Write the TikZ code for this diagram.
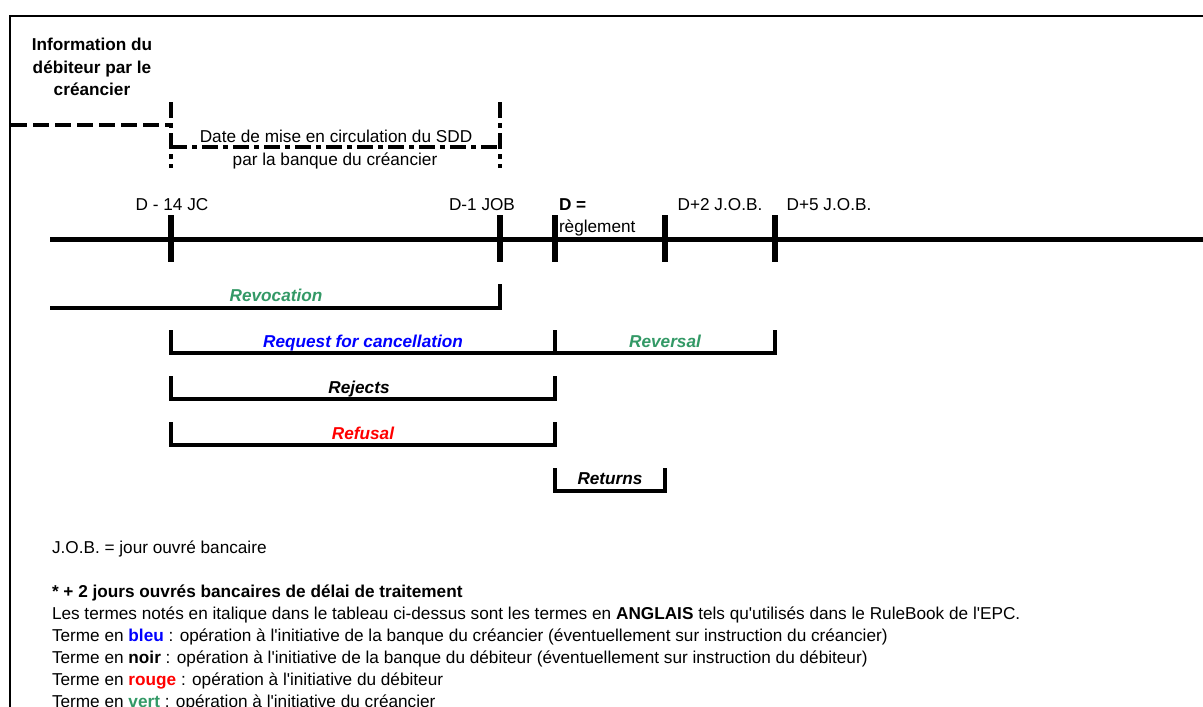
\documentclass[tikz,border=0pt]{standalone}
\usepackage{fontspec}
\newfontfamily\arial{Liberation Sans}
\definecolor{xgreen}{RGB}{51,153,102}
\definecolor{xblue}{RGB}{0,0,255}
\definecolor{xred}{RGB}{255,0,0}
\begin{document}
\begin{tikzpicture}[x=1pt,y=-1pt,
  txt/.style={inner sep=0pt,outer sep=0pt,font=\arial\fontsize{17.2}{20}\selectfont},
  btxt/.style={txt,font=\arial\fontsize{17.2}{20}\selectfont\bfseries},
  term/.style={txt,font=\arial\fontsize{17.2}{20}\selectfont\bfseries\itshape,anchor=base},
  frameline/.style={line width=2.2pt},
  axisline/.style={line width=5pt},
  tickmark/.style={line width=5.5pt},
  brk/.style={line width=4.2pt,line join=miter},
  longdash/.style={line width=4pt,dash pattern=on 16pt off 6pt},
  dashdot/.style={line width=4pt,dash pattern=on 16pt off 5pt on 5pt off 5pt}]
\useasboundingbox (0,0) rectangle (1203,707);
\fill[white] (0,0) rectangle (1203,707);
% frame
\draw[frameline] (10,707) -- (10,16) -- (1203,16);
% title
\node[btxt,anchor=base] (t1) at (92,50) {Information du};
\node[btxt,anchor=base] (t2) at (92,73) {débiteur par le};
\node[btxt,anchor=base] (t3) at (92,95) {créancier};
% dashed information line
\coordinate (infoL) at (11,125);
\coordinate (infoR) at (171,125);
\draw[longdash] (infoL) -- (infoR);
% date de mise en circulation
\coordinate (v1t) at (171,102); \coordinate (v1b) at (171,168);
\coordinate (v2t) at (500,102); \coordinate (v2b) at (500,168);
\coordinate (h1) at (171,147); \coordinate (h2) at (500,147);
\draw[dashdot] (v1t) -- (v1b);
\draw[dashdot] (v2t) -- (v2b);
\draw[dashdot] (h1) -- (h2);
\node[txt,anchor=base] (date1) at (336,142) {Date de mise en circulation du SDD};
\node[txt,anchor=base] (date2) at (335,165) {par la banque du créancier};
% timeline
\coordinate (axL) at (50,239);
\coordinate (axR) at (1203,239);
\draw[axisline] (axL) -- (axR);
\foreach \x/\n in {171/A,500/B,555/C,665/D,775/E}{
  \coordinate (t\n top) at (\x,215);
  \coordinate (t\n bot) at (\x,262);
  \draw[tickmark] (t\n top) -- (t\n bot);
}
\node[txt,anchor=base] (lA) at (172,210) {D - 14 JC};
\node[txt,anchor=base] (lB) at (482,210) {D-1 JOB};
\node[btxt,anchor=base west] (lC) at (559,210) {D =};
\node[txt,anchor=base west] (lC2) at (559,232) {règlement};
\node[txt,anchor=base] (lD) at (720,210) {D+2 J.O.B.};
\node[txt,anchor=base] (lE) at (829,210) {D+5 J.O.B.};
% brackets
\draw[brk] (50,308) -- (500,308) -- (500,284);
\node[term,text=xgreen] (revoc) at (276,301) {Revocation};
\draw[brk] (171,330) -- (171,353) -- (775,353) -- (775,330);
\draw[brk] (555,330) -- (555,353);
\node[term,text=xblue] (req) at (363,347) {Request for cancellation};
\node[term,text=xgreen] (rev) at (665,347) {Reversal};
\draw[brk] (171,376) -- (171,399) -- (555,399) -- (555,376);
\node[term,text=black] (rej) at (359,393) {Rejects};
\draw[brk] (171,422) -- (171,445) -- (555,445) -- (555,422);
\node[term,text=xred] (ref) at (363,439) {Refusal};
\draw[brk] (555,468) -- (555,491) -- (665,491) -- (665,468);
\node[term,text=black] (ret) at (610,484) {Returns};
% footer
\node[txt,anchor=base west] (f1) at (52,553) {J.O.B. = jour ouvré bancaire};
\node[btxt,anchor=base west] (f2) at (52,597) {* + 2 jours ouvrés bancaires de délai de traitement};
\node[txt,anchor=base west] (f3) at (52,619) {Les termes notés en italique dans le tableau ci-dessus sont les termes en \textbf{ANGLAIS} tels qu'utilisés dans le RuleBook de l'EPC.};
\node[txt,anchor=base west] (f4) at (52,641.5) {Terme en \textcolor{xblue}{\textbf{bleu}} : opération à l'initiative de la banque du créancier (éventuellement sur instruction du créancier)};
\node[txt,anchor=base west] (f5) at (52,663.5) {Terme en \textbf{noir} : opération à l'initiative de la banque du débiteur (éventuellement sur instruction du débiteur)};
\node[txt,anchor=base west] (f6) at (52,685.5) {Terme en \textcolor{xred}{\textbf{rouge}} : opération à l'initiative du débiteur};
\node[txt,anchor=base west] (f7) at (52,707) {Terme en \textcolor{xgreen}{\textbf{vert}} : opération à l'initiative du créancier};
\end{tikzpicture}
\end{document}
